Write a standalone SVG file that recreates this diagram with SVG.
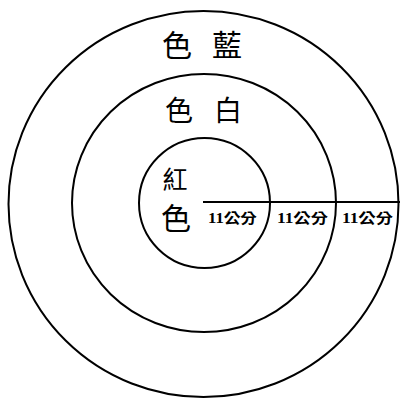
<svg xmlns="http://www.w3.org/2000/svg" width="400" height="399" viewBox="0 0 400 399">
<style>
.ring{fill:none;stroke:#000;stroke-width:2}
.big{font-family:"Noto Sans CJK TC","Noto Sans CJK SC",serif;fill:#000;text-anchor:middle}
.lbl{font-family:"Liberation Serif","Noto Sans CJK TC",serif;font-size:14px;font-weight:bold;fill:#000;text-anchor:middle}
</style>
<rect width="400" height="399" fill="#fff"/>
<g id="outer"><ellipse class="ring" cx="203.5" cy="204" rx="195" ry="193"/></g>
<g id="middle"><ellipse class="ring" cx="204" cy="203" rx="132" ry="129"/></g>
<g id="inner"><ellipse class="ring" cx="204.5" cy="203" rx="65.5" ry="65"/></g>
<g id="connectors"><line x1="203" y1="202" x2="400" y2="202" stroke="#000" stroke-width="2"/></g>
<g id="labels">
<text class="big" font-size="30" x="177" y="56">色</text>
<text class="big" font-size="30" x="227" y="56">藍</text>
<text class="big" font-size="28" x="179" y="121">色</text>
<text class="big" font-size="28" x="228" y="121">白</text>
<text class="big" font-size="25" x="175" y="189">紅</text>
<text class="big" font-size="30" x="176" y="229">色</text>
<text class="lbl" x="232.5" y="223" textLength="49" lengthAdjust="spacingAndGlyphs">11公分</text>
<text class="lbl" x="302.5" y="223" textLength="51" lengthAdjust="spacingAndGlyphs">11公分</text>
<text class="lbl" x="367.5" y="223" textLength="51" lengthAdjust="spacingAndGlyphs">11公分</text>
</g>
</svg>
